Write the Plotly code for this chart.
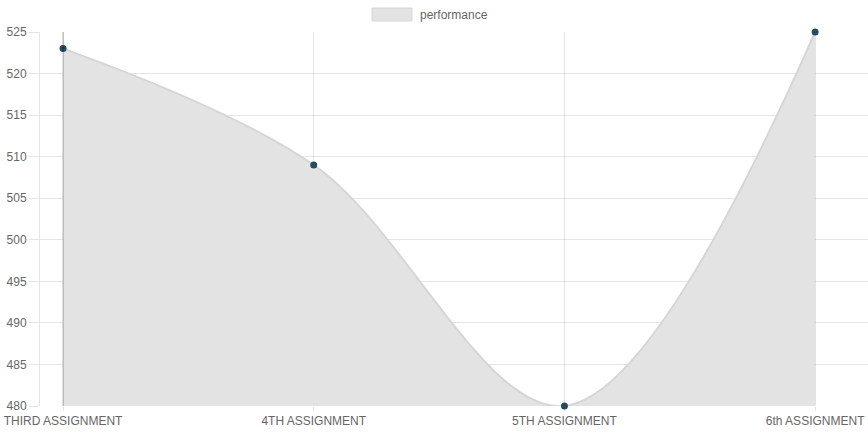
import plotly.graph_objects as go

categories = ["THIRD ASSIGNMENT", "4TH ASSIGNMENT", "5TH ASSIGNMENT", "6th ASSIGNMENT"]
performance = [523, 509, 480, 525]
y_ticks = [480, 485, 490, 495, 500, 505, 510, 515, 520, 525]
series_name = "performance"

GRID = "rgba(0,0,0,0.1)"
FONT = dict(family="Liberation Sans, Arial, sans-serif", size=12, color="#666666")

fig = go.Figure()
fig.add_trace(go.Scatter(
    x=categories, y=performance, name=series_name,
    mode="lines+markers", line=dict(shape="spline", smoothing=1.0, color="#d6d6d6", width=2),
    fill="tozeroy", fillcolor="rgba(227,227,227,1)",
    marker=dict(size=7, color="#264a60", line=dict(width=0)),
    showlegend=False, hoverinfo="x+y", cliponaxis=False,
))

fig.update_layout(
    width=868, height=434,
    margin=dict(l=40, r=0, t=32, b=28),
    paper_bgcolor="white", plot_bgcolor="white",
    font=FONT,
    showlegend=False,
    xaxis=dict(
        type="category", range=[-0.092, 3.211],
        showgrid=True, gridcolor=GRID, gridwidth=1,
        ticks="outside", ticklen=4, tickcolor=GRID,
        showline=False, zeroline=False, tickfont=FONT,
    ),
    yaxis=dict(
        range=[480, 525], tickvals=y_ticks,
        showgrid=True, gridcolor=GRID, gridwidth=1,
        ticks="outside", ticklen=10, tickcolor=GRID,
        showline=True, linecolor=GRID, linewidth=1,
        zeroline=False, tickfont=FONT,
    ),
    shapes=[
        dict(type="line", xref="x", yref="paper", x0=0, x1=0, y0=0, y1=1,
             line=dict(color="rgba(0,0,0,0.3)", width=1), layer="above"),
        dict(type="rect", xref="paper", yref="paper",
             x0=(372 - 40) / 828, x1=(412 - 40) / 828,
             y0=(406 - 21) / 374, y1=(406 - 8) / 374,
             fillcolor="rgba(227,227,227,1)", line=dict(color="#d6d6d6", width=1)),
    ],
    annotations=[
        dict(text=series_name, xref="paper", yref="paper",
             x=(418 - 40) / 828, y=(406 - 15) / 374,
             xanchor="left", yanchor="middle", showarrow=False, font=FONT),
    ],
)

fig.write_html("out.html")
